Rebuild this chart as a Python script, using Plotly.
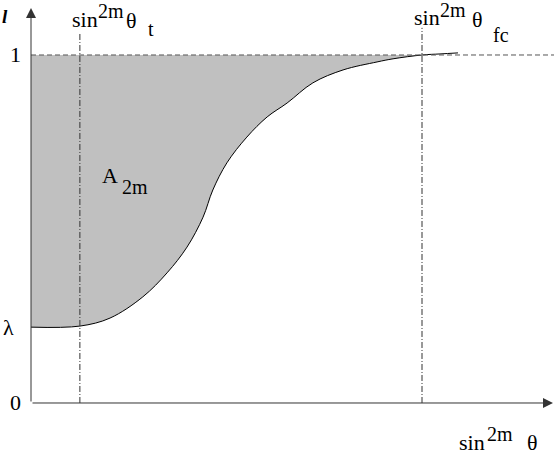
"""Schematic of l versus sin^2m(theta) with the shaded A_2m area."""
import plotly.graph_objects as go

# x is sin^2m(theta) scaled so that sin^2m(theta_fc) = 1, y is l
LAMBDA = 0.218
THETA_T = 0.125
THETA_FC = 1.0
curve_x = [0.0, 0.125, 0.202, 0.286, 0.348, 0.399, 0.440, 0.465, 0.501,
           0.552, 0.604, 0.655, 0.721, 0.798, 0.885, 0.926, 1.0, 1.046, 1.092]
curve_y = [0.218, 0.221, 0.244, 0.305, 0.374, 0.448, 0.534, 0.612, 0.690,
           0.764, 0.822, 0.862, 0.920, 0.957, 0.980, 0.989, 1.0, 1.003, 1.006]
y_ticks = [("1", 1.0), ("λ", LAMBDA), ("0", 0.0)]

W, H = 554, 453
FONT = "Liberation Serif, Times New Roman, DejaVu Serif, serif"
AXIS = "#333333"
BIG, SMALL = 22, 20

fig = go.Figure()

# shaded area between the curve and l = 1, up to theta_fc
n_fill = sum(1 for x in curve_x if x <= THETA_FC)
fig.add_trace(go.Scatter(
    x=[0.0, THETA_FC], y=[1.0, 1.0], mode="lines",
    line={"width": 0, "color": "rgba(0,0,0,0)"}, hoverinfo="skip",
))
fig.add_trace(go.Scatter(
    x=curve_x[:n_fill], y=curve_y[:n_fill], mode="lines", fill="tonexty",
    fillcolor="#c0c0c0", line={"width": 0, "shape": "spline"},
    hoverinfo="skip",
))
fig.add_trace(go.Scatter(
    x=curve_x, y=curve_y, mode="lines",
    line={"color": "black", "width": 1, "shape": "spline"}, hoverinfo="skip",
))

shapes = [
    {"type": "line", "x0": 0, "x1": 1.34, "y0": 1.0, "y1": 1.0,
     "line": {"color": "#555555", "width": 1, "dash": "5px,3px"}},
    {"type": "line", "x0": THETA_T, "x1": THETA_T, "y0": 0, "y1": 1.063,
     "line": {"color": "#333333", "width": 1, "dash": "6px,2px,1px,2px"}},
    {"type": "line", "x0": THETA_FC, "x1": THETA_FC, "y0": 0, "y1": 1.078,
     "line": {"color": "#333333", "width": 1, "dash": "6px,2px,1px,2px"}},
]


def label(text, left, baseline, size, **kw):
    """Text piece placed by its left edge and baseline, in page pixels."""
    return dict(
        text=text, xref="paper", yref="paper", showarrow=False,
        x=left / W, y=1 - (baseline - 0.34 * size) / H,
        xanchor="left", yanchor="middle", borderpad=0,
        font={"family": FONT, "size": size, "color": "black"}, **kw,
    )


annotations = [
    # axes with arrowheads
    dict(x=1.335, y=0, ax=0, ay=0, axref="x", ayref="y", showarrow=True,
         arrowhead=2, arrowsize=2, arrowwidth=1, arrowcolor=AXIS, text=""),
    dict(x=0, y=1.135, ax=0, ay=0, axref="x", ayref="y", showarrow=True,
         arrowhead=2, arrowsize=2, arrowwidth=1, arrowcolor=AXIS, text=""),
    label("<b><i>l</i></b>", 1, 23, 19),
    # sin^2m theta_t
    label("sin", 71, 27, BIG), label("2m", 97, 18, SMALL),
    label("θ", 125, 28, BIG), label("t", 147, 36, SMALL),
    # sin^2m theta_fc
    label("sin", 413, 25, BIG), label("2m", 439, 17, SMALL),
    label("θ", 471, 27, BIG), label("fc", 492, 42, SMALL),
    # x axis title
    label("sin", 458, 450, BIG), label("2m", 486, 441, SMALL),
    label("θ", 526, 450, BIG),
    # area label
    label("A", 101, 183, BIG), label("2m", 121, 194, SMALL),
]
for text, val in y_ticks:
    annotations.append(dict(
        x=-0.039 if text != "λ" else -0.0588, y=val, text=text,
        showarrow=False, font={"family": FONT, "size": BIG, "color": "black"},
    ))

fig.update_layout(
    width=W, height=H, margin={"l": 0, "r": 0, "t": 0, "b": 0},
    paper_bgcolor="white", plot_bgcolor="white", showlegend=False,
    xaxis={"visible": False, "range": [-0.0793, 1.3376], "fixedrange": True},
    yaxis={"visible": False, "range": [-0.1437, 1.158], "fixedrange": True},
    shapes=shapes, annotations=annotations,
)

fig.write_html("out.html", config={"displayModeBar": False},
               post_script="document.body.style.margin='0';")
